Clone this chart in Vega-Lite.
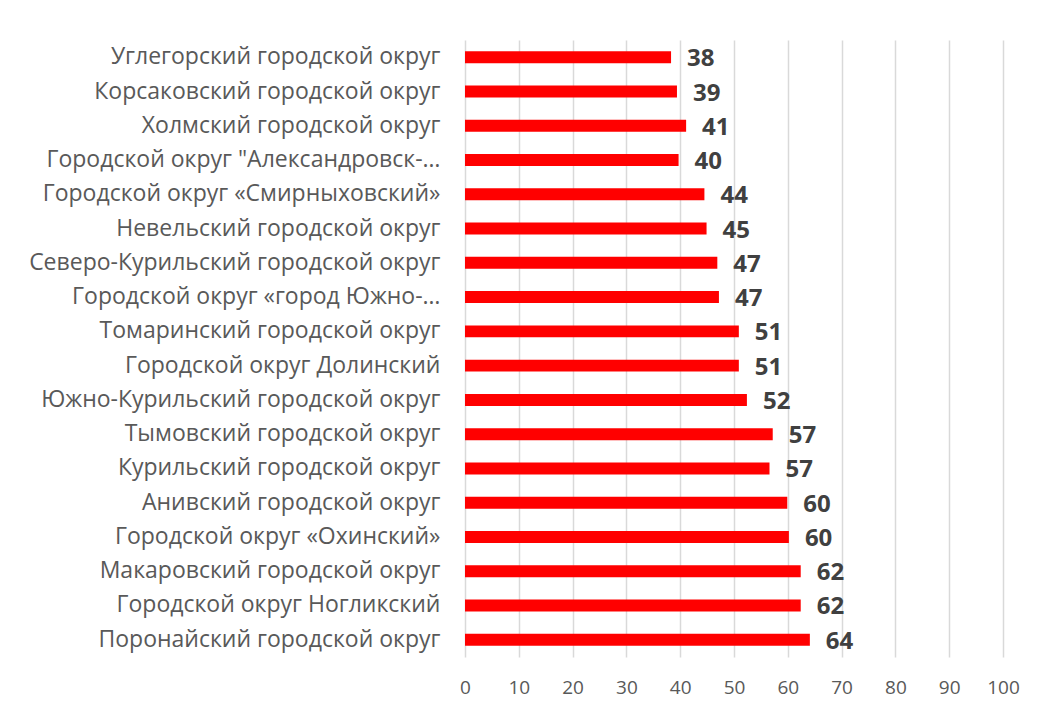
{
  "$schema": "https://vega.github.io/schema/vega-lite/v6.json",
  "autosize": {"type": "none"},
  "width": 538,
  "height": 617,
  "padding": {"left": 465, "top": 40, "right": 35, "bottom": 56},
  "background": "white",
  "config": {"view": {"stroke": null}, "font": "Open Sans"},
  "data": {
    "values": [
      {"okrug": "Углегорский городской округ", "value": 38.3, "label": "38"},
      {"okrug": "Корсаковский городской округ", "value": 39.4, "label": "39"},
      {"okrug": "Холмский городской округ", "value": 41.1, "label": "41"},
      {"okrug": "Городской округ \"Александровск-…", "value": 39.7, "label": "40"},
      {"okrug": "Городской округ «Смирныховский»", "value": 44.5, "label": "44"},
      {"okrug": "Невельский городской округ", "value": 44.9, "label": "45"},
      {"okrug": "Северо-Курильский городской округ", "value": 46.9, "label": "47"},
      {"okrug": "Городской округ «город Южно-…", "value": 47.2, "label": "47"},
      {"okrug": "Томаринский городской округ", "value": 50.9, "label": "51"},
      {"okrug": "Городской округ Долинский", "value": 50.9, "label": "51"},
      {"okrug": "Южно-Курильский городской округ", "value": 52.4, "label": "52"},
      {"okrug": "Тымовский городской округ", "value": 57.2, "label": "57"},
      {"okrug": "Курильский городской округ", "value": 56.6, "label": "57"},
      {"okrug": "Анивский городской округ", "value": 59.9, "label": "60"},
      {"okrug": "Городской округ «Охинский»", "value": 60.2, "label": "60"},
      {"okrug": "Макаровский городской округ", "value": 62.4, "label": "62"},
      {"okrug": "Городской округ Ногликский", "value": 62.4, "label": "62"},
      {"okrug": "Поронайский городской округ", "value": 64.1, "label": "64"}
    ]
  },
  "encoding": {
    "y": {
      "field": "okrug",
      "type": "nominal",
      "sort": null,
      "scale": {"paddingInner": 0.65, "paddingOuter": 0.33},
      "axis": {
        "title": null,
        "domain": false,
        "ticks": false,
        "labelFontSize": 23,
        "labelColor": "#595959",
        "labelPadding": 25,
        "labelLimit": 460
      }
    },
    "x": {
      "field": "value",
      "type": "quantitative",
      "scale": {"domain": [0, 100]},
      "axis": {
        "title": null,
        "values": [0, 10, 20, 30, 40, 50, 60, 70, 80, 90, 100],
        "domain": false,
        "ticks": false,
        "grid": true,
        "gridColor": "#d9d9d9",
        "gridWidth": 1.5,
        "labelFlush": false,
        "labelFontSize": 19,
        "labelColor": "#595959",
        "labelPadding": 21
      }
    }
  },
  "layer": [
    {"mark": {"type": "bar", "color": "#ff0000"}},
    {
      "mark": {"type": "text", "align": "left", "baseline": "middle", "dx": 16, "dy": 2, "fontSize": 24, "fontWeight": "bold", "color": "#404040"},
      "encoding": {"text": {"field": "label"}}
    }
  ]
}
